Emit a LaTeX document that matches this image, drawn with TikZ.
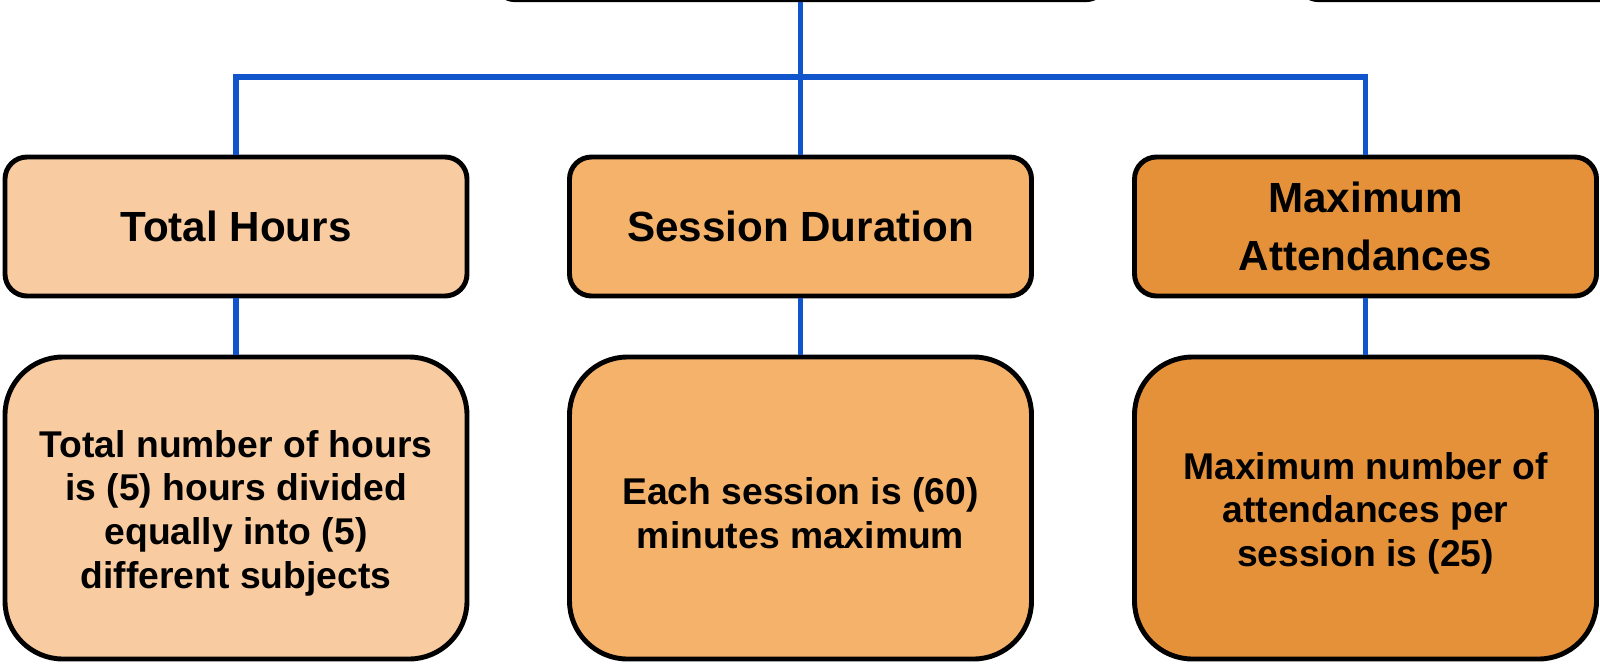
\documentclass[tikz,border=0pt]{standalone}
\usepackage{fontspec}
\setmainfont{Liberation Sans}
\definecolor{c1}{HTML}{F8CBA0}
\definecolor{c2}{HTML}{F5B26B}
\definecolor{c3}{HTML}{E5913A}
\definecolor{blueline}{HTML}{1155CC}
\tikzset{
  headbox/.style={draw=black, line width=1.4pt, rounded corners=0.22cm, minimum width=4.62cm, minimum height=1.39cm, inner sep=0pt, align=center, font=\fontsize{12pt}{16.5pt}\selectfont\bfseries},
  bodybox/.style={draw=black, line width=1.4pt, rounded corners=0.58cm, minimum width=4.62cm, minimum height=3.02cm, inner sep=0pt, align=center, font=\fontsize{10.6pt}{12.4pt}\selectfont\bfseries},
  bodytext/.style={inner sep=0pt, align=center, font=\fontsize{10.6pt}{12.4pt}\selectfont\bfseries},
  rootbox/.style={draw=black, line width=0.6pt, rounded corners=0.2cm, minimum height=1cm, inner sep=0pt, fill=white},
  conn/.style={draw=blueline, line width=1.6pt}
}
\begin{document}
\begin{tikzpicture}
\useasboundingbox (0,0) rectangle (16,-6.64);
\clip (0,0) rectangle (16,-6.64);
\node[rootbox, minimum width=6.12cm] (root) at (8.005,0.49) {};
\node[rootbox, minimum width=6.2cm] (rootb) at (16.08,0.49) {};
\coordinate (bus) at (8.005,-0.77);
\node[headbox, fill=c1] (h1) at (2.36,-2.265) {Total Hours};
\node[headbox, fill=c2] (h2) at (8.005,-2.265) {Session Duration};
\node[headbox, fill=c3] (h3) at (13.655,-2.265) {Maximum\\Attendances};
\node[bodybox, fill=c1] (b1) at (2.36,-5.08) {};
\node[bodybox, fill=c2] (b2) at (8.005,-5.08) {};
\node[bodybox, fill=c3] (b3) at (13.655,-5.08) {};
\node[bodytext] (t1) at (2.36,-5.13) {Total number of hours\\is (5) hours divided\\equally into (5)\\different subjects};
\node[bodytext] (t2) at (8.005,-5.13) {Each session is (60)\\minutes maximum};
\node[bodytext] (t3) at (13.655,-5.13) {Maximum number of\\attendances per\\session is (25)};
\draw[conn] (root.south) -- (h2.north);
\draw[conn] (h1.north) -- (h1.north |- bus) -| (h3.north);
\draw[conn] (h1.south) -- (b1.north);
\draw[conn] (h2.south) -- (b2.north);
\draw[conn] (h3.south) -- (b3.north);
\end{tikzpicture}
\end{document}
